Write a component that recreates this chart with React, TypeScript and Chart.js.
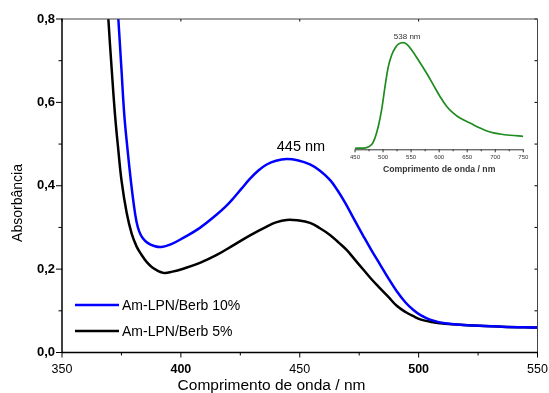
import { useEffect, useRef } from 'react';
import { Chart, registerables } from 'chart.js';

Chart.register(...registerables);

const FONT = "'Liberation Sans', Arial, Helvetica, sans-serif";

// Main absorbance spectra
const blueLabel = 'Am-LPN/Berb 10%';
const blueNm = [371.5, 373.7, 375.0, 376.2, 377.6, 379.0, 380.2, 381.3, 382.5, 384, 386, 388.5, 391.9, 396, 401.0, 408, 415.1, 419, 422.1, 425.5, 429.1, 432.5, 436.1, 440, 444.5, 449, 454.3, 458.5, 462.7, 466, 469, 473, 476.7, 480, 483.8, 487.5, 490.8, 494.5, 497.8, 501, 504.8, 511, 518.8, 535, 550];
const blueAbs = [1.0, 0.8, 0.68, 0.57, 0.485, 0.41, 0.355, 0.315, 0.29, 0.274, 0.263, 0.256, 0.253, 0.26, 0.275, 0.299, 0.331, 0.351, 0.37, 0.393, 0.417, 0.436, 0.451, 0.46, 0.464, 0.461, 0.451, 0.436, 0.414, 0.388, 0.36, 0.318, 0.28, 0.247, 0.211, 0.176, 0.147, 0.12, 0.102, 0.089, 0.079, 0.07, 0.066, 0.062, 0.06];

const blackLabel = 'Am-LPN/Berb 5%';
const blackNm = [367.5, 369.5, 370.9, 372.3, 373.7, 375.1, 377.2, 379.3, 381.4, 383.5, 385.5, 388, 392.6, 396.5, 401.0, 408, 415.1, 422, 429.1, 436.1, 440, 444.5, 449, 454.3, 458.5, 462.7, 466.5, 469.7, 473, 476.7, 480, 483.8, 487.5, 490.8, 494.5, 497.8, 501, 504.8, 511, 518.8, 535, 550];
const blackAbs = [1.0, 0.8, 0.68, 0.57, 0.485, 0.41, 0.335, 0.285, 0.254, 0.234, 0.218, 0.204, 0.191, 0.194, 0.201, 0.215, 0.234, 0.257, 0.281, 0.302, 0.312, 0.318, 0.317, 0.311, 0.298, 0.282, 0.263, 0.246, 0.224, 0.199, 0.177, 0.154, 0.132, 0.112, 0.097, 0.087, 0.079, 0.074, 0.069, 0.066, 0.062, 0.06];

// Inset emission spectrum (normalised intensity)
const emNm = [450, 470.8, 479.7, 485.6, 491.6, 497.5, 503.5, 509.4, 515.4, 521.3, 527.3, 536, 542.1, 551, 562.9, 577.7, 589.6, 601.5, 613.5, 625.3, 637.2, 655, 672.8, 690.7, 708.5, 726.3, 750];
const emInt = [0, 0.006, 0.035, 0.097, 0.208, 0.365, 0.585, 0.774, 0.884, 0.947, 0.987, 1.0, 0.987, 0.931, 0.836, 0.711, 0.6, 0.491, 0.396, 0.333, 0.286, 0.239, 0.192, 0.154, 0.135, 0.123, 0.113];

const xTickValues = [350, 375, 400, 425, 450, 475, 500, 525, 550];
const yTickValues = [0, 0.1, 0.2, 0.3, 0.4, 0.5, 0.6, 0.7, 0.8];
const insetTickValues = [450, 475, 500, 525, 550, 575, 600, 625, 650, 675, 700, 725, 750];

const peakLabel = '445 nm';
const emPeakLabel = '538 nm';
const xTitle = 'Comprimento de onda / nm';
const yTitle = 'Absorbância';

const toPts = (xs: number[], ys: number[]) => xs.map((x, i) => ({ x, y: ys[i] }));

const framePlugin = {
  id: 'frame',
  afterDraw(chart: any) {
    const { ctx, chartArea: a, scales } = chart;
    const x = scales.x;
    const y = scales.y;
    ctx.save();
    const line = (x1: number, y1: number, x2: number, y2: number) => {
      ctx.beginPath();
      ctx.moveTo(x1, y1);
      ctx.lineTo(x2, y2);
      ctx.stroke();
    };
    ctx.strokeStyle = '#000';
    ctx.lineWidth = 1;
    xTickValues.forEach((v) => {
      const px = x.getPixelForValue(v);
      const major = v % 50 === 0;
      line(px, a.bottom, px, a.bottom + (major ? 5 : 3));
      if (major) line(px, a.top, px, a.top + 2.5);
    });
    yTickValues.forEach((v) => {
      const py = y.getPixelForValue(v);
      const major = Math.round(v * 10) % 2 === 0;
      line(a.left - (major ? 6 : 3.5), py, a.left, py);
      line(a.right - 3, py, a.right, py);
    });
    // frame
    ctx.strokeStyle = '#444';
    ctx.lineWidth = 1;
    line(a.left, a.top, a.right, a.top);
    line(a.right, a.top, a.right, a.bottom);
    ctx.strokeStyle = '#000';
    ctx.lineWidth = 1.5;
    line(a.left, a.top - 0.5, a.left, a.bottom);
    line(a.left, a.bottom, a.right + 0.5, a.bottom);

    // legend
    ctx.font = `14px ${FONT}`;
    ctx.textAlign = 'left';
    ctx.textBaseline = 'middle';
    chart.data.datasets.forEach((ds: any, i: number) => {
      const ly = 305 + i * 26;
      ctx.strokeStyle = ds.borderColor;
      ctx.lineWidth = 2.5;
      line(75, ly, 119, ly);
      ctx.fillStyle = '#000';
      ctx.fillText(ds.label, 122, ly + 1);
    });

    // peak annotation
    ctx.font = `14.5px ${FONT}`;
    ctx.textAlign = 'center';
    ctx.fillStyle = '#000';
    ctx.fillText(peakLabel, x.getPixelForValue(450.5), y.getPixelForValue(0.494));

    // axis titles
    ctx.font = `15.5px ${FONT}`;
    ctx.fillText(xTitle, 271.5, 385.5);
    ctx.save();
    ctx.translate(18, 203);
    ctx.rotate(-Math.PI / 2);
    ctx.font = `14px ${FONT}`;
    ctx.fillText(yTitle, 0, 0);
    ctx.restore();
    ctx.restore();
  },
};

const insetPlugin = {
  id: 'insetFrame',
  afterDraw(chart: any) {
    const { ctx, chartArea: a, scales } = chart;
    const x = scales.x;
    const y = scales.y;
    ctx.save();
    ctx.strokeStyle = '#333';
    ctx.lineWidth = 1;
    ctx.beginPath();
    ctx.moveTo(a.left, a.bottom + 0.5);
    ctx.lineTo(a.right, a.bottom + 0.5);
    ctx.stroke();
    insetTickValues.forEach((v) => {
      const px = x.getPixelForValue(v);
      const major = v % 50 === 0;
      ctx.beginPath();
      ctx.moveTo(px, a.bottom);
      ctx.lineTo(px, a.bottom + (major ? 3 : 2));
      ctx.stroke();
    });
    ctx.fillStyle = '#333';
    ctx.font = `8px ${FONT}`;
    ctx.textAlign = 'center';
    ctx.textBaseline = 'middle';
    ctx.fillText(emPeakLabel, x.getPixelForValue(543), y.getPixelForValue(1.058));
    ctx.restore();
  },
};

export default function App() {
  const mainRef = useRef<HTMLCanvasElement>(null);
  const insetRef = useRef<HTMLCanvasElement>(null);

  useEffect(() => {
    document.body.style.margin = '0';
    const main = new Chart(mainRef.current as HTMLCanvasElement, {
      type: 'line',
      data: {
        datasets: [
          {
            label: blueLabel,
            data: toPts(blueNm, blueAbs),
            borderColor: '#0000ff',
            borderWidth: 2.5,
            pointRadius: 0,
            tension: 0.4,
          },
          {
            label: blackLabel,
            data: toPts(blackNm, blackAbs),
            borderColor: '#000000',
            borderWidth: 2.5,
            pointRadius: 0,
            tension: 0.4,
          },
        ],
      },
      options: {
        animation: false,
        responsive: false,
        devicePixelRatio: 1,
        layout: { padding: { top: 19, right: 11.5, left: 0, bottom: 0 } },
        plugins: { legend: { display: false }, tooltip: { enabled: false } },
        scales: {
          x: {
            type: 'linear',
            min: 350,
            max: 550,
            grid: { display: false, drawTicks: false, tickLength: 0 },
            border: { display: false },
            ticks: {
              stepSize: 25,
              autoSkip: false,
              maxRotation: 0,
              padding: 10,
              color: '#000',
              font: (c: any) => ({ family: FONT, size: 12.5, weight: c.tick && c.tick.value % 100 === 0 ? 'bold' : 'normal' }),
              callback: (v: any) => (Number(v) % 50 === 0 ? String(v) : ''),
            },
            afterFit: (s: any) => {
              s.height = 40.5;
              s.paddingLeft = 0;
              s.paddingRight = 0;
            },
          },
          y: {
            min: 0,
            max: 0.8,
            grid: { display: false, drawTicks: false, tickLength: 0 },
            border: { display: false },
            ticks: {
              stepSize: 0.1,
              autoSkip: false,
              padding: 7,
              color: '#000',
              font: { family: FONT, size: 13, weight: 'bold' },
              callback: (v: any) => {
                const t = Math.round(Number(v) * 10);
                return t % 2 === 0 ? (t / 10).toFixed(1).replace('.', ',') : '';
              },
            },
            afterFit: (s: any) => {
              s.width = 62;
              s.paddingTop = 0;
              s.paddingBottom = 0;
            },
          },
        },
      } as any,
      plugins: [framePlugin],
    });

    const inset = new Chart(insetRef.current as HTMLCanvasElement, {
      type: 'line',
      data: {
        datasets: [
          {
            label: 'emission',
            data: toPts(emNm, emInt),
            borderColor: '#1e8c1e',
            borderWidth: 1.7,
            pointRadius: 0,
            tension: 0.4,
          },
        ],
      },
      options: {
        animation: false,
        responsive: false,
        devicePixelRatio: 1,
        layout: { padding: { top: 15.6, right: 16.7, left: 25, bottom: 0 } },
        plugins: { legend: { display: false }, tooltip: { enabled: false } },
        scales: {
          x: {
            type: 'linear',
            min: 450,
            max: 750,
            grid: { display: false, drawTicks: false, tickLength: 0 },
            border: { display: false },
            ticks: {
              stepSize: 50,
              autoSkip: false,
              maxRotation: 0,
              padding: 4.5,
              color: '#333',
              font: { family: FONT, size: 6 },
            },
            title: {
              display: true,
              text: xTitle,
              color: '#333',
              font: { family: FONT, size: 8.7, weight: 'bold' },
              padding: 0,
            },
            afterFit: (s: any) => {
              s.height = 25.7;
              s.paddingLeft = 0;
              s.paddingRight = 0;
            },
          },
          y: { display: false, min: -0.01, max: 1.02 },
        },
      } as any,
      plugins: [insetPlugin],
    });

    return () => {
      main.destroy();
      inset.destroy();
    };
  }, []);

  return (
    <div style={{ position: 'relative', width: 549, height: 393, background: '#fff' }}>
      <canvas ref={mainRef} width={549} height={393} style={{ position: 'absolute', left: 0, top: 0, width: 549, height: 393 }} />
      <canvas ref={insetRef} width={210} height={150} style={{ position: 'absolute', left: 330, top: 25, width: 210, height: 150 }} />
    </div>
  );
}
